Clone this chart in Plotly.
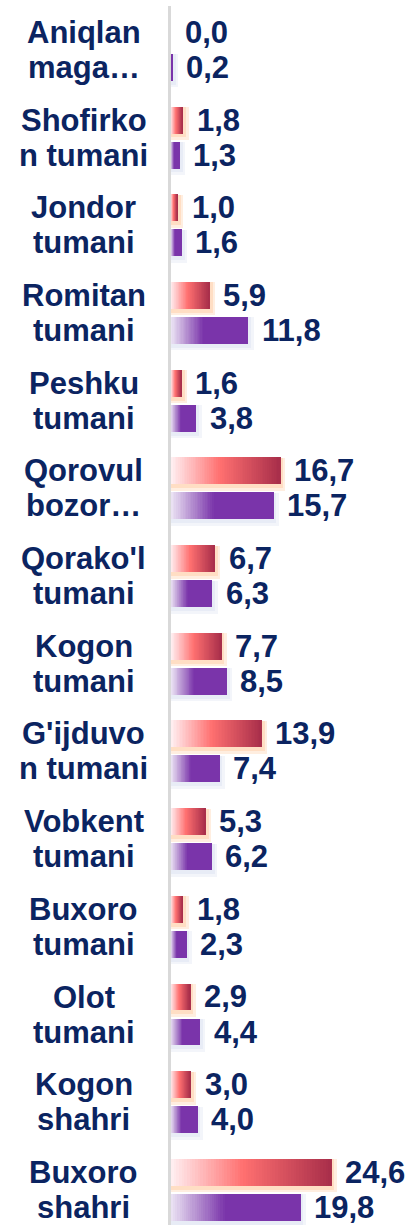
import plotly.graph_objects as go

categories = [
    "Aniqlan<br>maga…", "Shofirko<br>n tumani", "Jondor<br>tumani", "Romitan<br>tumani",
    "Peshku<br>tumani", "Qorovul<br>bozor…", "Qorako'l<br>tumani", "Kogon<br>tumani",
    "G'ijduvo<br>n tumani", "Vobkent<br>tumani", "Buxoro<br>tumani", "Olot<br>tumani",
    "Kogon<br>shahri", "Buxoro<br>shahri",
]
series_red = [0.0, 1.8, 1.0, 5.9, 1.6, 16.7, 6.7, 7.7, 13.9, 5.3, 1.8, 2.9, 3.0, 24.6]
series_purple = [0.2, 1.3, 1.6, 11.8, 3.8, 15.7, 6.3, 8.5, 7.4, 6.2, 2.3, 4.4, 4.0, 19.8]

NAVY = "#0b2461"
FONT = "Liberation Sans, Arial, sans-serif"
K = 60

def lerp(c1, c2, t):
    return tuple(a + (b - a) * t for a, b in zip(c1, c2))

def red_color(t):
    stops = [(0.0, (255, 240, 242)), (0.45, (255, 112, 112)), (1.0, (168, 46, 74))]
    for (t0, c0), (t1, c1) in zip(stops, stops[1:]):
        if t <= t1:
            return lerp(c0, c1, (t - t0) / (t1 - t0))
    return stops[-1][1]

def purple_color(t):
    stops = [(0.0, (236, 228, 244)), (0.42, (122, 52, 170)), (1.0, (122, 52, 170))]
    for (t0, c0), (t1, c1) in zip(stops, stops[1:]):
        if t <= t1:
            return lerp(c0, c1, (t - t0) / (t1 - t0))
    return stops[-1][1]

ypos = list(range(len(categories)))
fig = go.Figure()

BW = 0.307
specs = [
    (series_red, red_color, -0.353, [(255, 222, 196), (255, 238, 224)]),
    (series_purple, purple_color, 0.046, [(232, 236, 246), (243, 245, 250)]),
]
# soft shadows (two faint layers)
for values, cfun, off, shadows in specs:
    for layer, (r, g, b) in enumerate(reversed(shadows)):
        grow = 1 - layer  # outer layer first
        fig.add_trace(go.Bar(
            orientation="h", y=ypos,
            x=[v + 0.5 + 0.4 * grow if v > 0 else 0 for v in values], base=0,
            width=BW + 0.04 + 0.03 * grow, offset=off + 0.005,
            marker=dict(color=f"rgb({r},{g},{b})", line=dict(width=0)),
            showlegend=False, hoverinfo="skip",
        ))
for values, cfun, off, shadows in specs:
    for k in range(K):
        t = (k + 0.5) / K
        r, g, b = cfun(t)
        fig.add_trace(go.Bar(
            orientation="h",
            y=ypos,
            x=[v / K * 2.5 if k < K - 1 else v / K for v in values],
            base=[v * k / K for v in values],
            width=BW,
            offset=off,
            marker=dict(color=f"rgb({r:.0f},{g:.0f},{b:.0f})", line=dict(width=0)),
            showlegend=False,
            hoverinfo="skip",
        ))

annotations = []
LINE = 35
for i, lab in enumerate(categories):
    lines = lab.split("<br>")
    n = len(lines)
    for j, ln in enumerate(lines):
        annotations.append(dict(
            text=f"<b>{ln}</b>", xref="paper", yref="y", x=-0.36, y=i,
            xanchor="center", yanchor="middle", align="center", showarrow=False,
            yshift=((n - 1) / 2 - j) * LINE,
            font=dict(family=FONT, size=31, color=NAVY),
        ))
for values, dy in [(series_red, -0.2), (series_purple, 0.2)]:
    for i, v in enumerate(values):
        annotations.append(dict(
            text="<b>" + f"{v:.1f}".replace(".", ",") + "</b>",
            xref="x", yref="y", x=v, y=i + dy, xanchor="left", yanchor="middle",
            xshift=12, showarrow=False,
            font=dict(family=FONT, size=31, color=NAVY),
        ))

fig.update_layout(
    width=413, height=1225,
    margin=dict(l=171, r=0, t=6, b=0),
    paper_bgcolor="white", plot_bgcolor="white",
    barmode="overlay",
    bargap=0,
    xaxis=dict(range=[0, 37.2], visible=False, fixedrange=True),
    yaxis=dict(range=[13.4, -0.5], showticklabels=False, ticks="", showgrid=False,
               zeroline=False, showline=True, linecolor="#d9d9d9", linewidth=3,
               fixedrange=True),
    annotations=annotations,
)

fig.write_html("out.html", config={"displayModeBar": False},
               post_script="document.body.style.margin='0';")
